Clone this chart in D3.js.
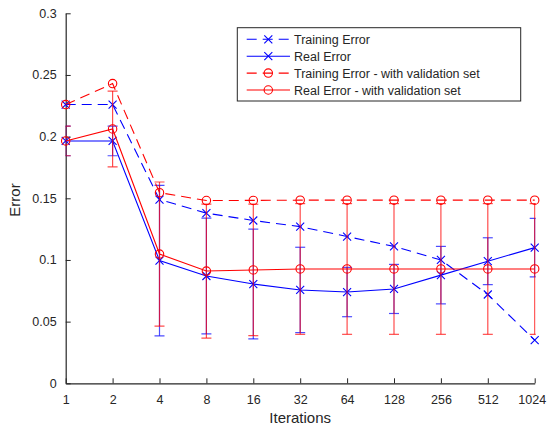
<!DOCTYPE html>
<html><head><meta charset="utf-8">
<script src="https://cdn.jsdelivr.net/npm/d3@7"></script>
<style>body{margin:0;background:#fff;} svg{display:block;font-family:"Liberation Sans",Arial,sans-serif;}</style>
</head><body>
<script>
const iterations = [1,2,4,8,16,32,64,128,256,512,1024];
const trainErr = [0.226,0.226,0.149,0.138,0.132,0.127,0.119,0.111,0.100,0.072,0.035];
const realErr = [0.1965,0.1965,0.0995,0.087,0.0805,0.0757,0.074,0.0765,0.0877,0.099,0.110];
const realErrDev = [0.012,0.012,0.061,0.047,0.0445,0.0346,0.020,0.0199,0.0233,0.019,0.0237];
const trainValErr = [0.226,0.243,0.1546,0.1482,0.1483,0.1485,0.1485,0.1485,0.1485,0.1485,0.1485];
const realValErr = [0.1965,0.2062,0.1048,0.091,0.0919,0.0927,0.0927,0.0927,0.0927,0.0927,0.0927];
const realValErrDev = [0.012,0.0307,0.0584,0.0543,0.0533,0.053,0.053,0.053,0.053,0.053,0.053];
const yTicks = [0,0.05,0.1,0.15,0.2,0.25,0.3];
const legendLabels = ["Training Error","Real Error","Training Error - with validation set","Real Error - with validation set"];

const W=547,H=427;
const x0=65.7,x1=534.7,yTop=13.3,yBot=383.3;
const svg=d3.select("body").append("svg").attr("width",W).attr("height",H);
const x=d3.scaleLog().base(2).domain([1,1024]).range([x0,x1]);
const y=d3.scaleLinear().domain([0,0.3]).range([yBot,yTop]);
const axisCol="#262626";

// axes
const gx=svg.append("g").attr("transform",`translate(0,${yBot})`)
  .call(d3.axisBottom(x).tickValues(iterations).tickFormat(d3.format("d")).tickSizeInner(-5).tickSizeOuter(0).tickPadding(12));
const gy=svg.append("g").attr("transform",`translate(${x0},0)`)
  .call(d3.axisLeft(y).tickValues(yTicks).tickFormat(d=>d===0?"0":String(+d.toFixed(2))).tickSizeInner(-5).tickSizeOuter(0).tickPadding(9));
[gx,gy].forEach(g=>{
  g.select(".domain").attr("stroke",axisCol).attr("stroke-width",1.2);
  g.selectAll(".tick line").attr("stroke",axisCol);
  g.selectAll(".tick text").attr("fill",axisCol).style("font-size","12.5px").style("font-family","'Liberation Sans',Arial,sans-serif");
});
// keep last x label inside the window, as in the reference
gx.selectAll(".tick text").filter(d=>d===1024).attr("dx",-3);

svg.append("text").attr("x",(x0+x1)/2).attr("y",423).attr("text-anchor","middle")
  .attr("fill",axisCol).style("font-size","15px").text("Iterations");
svg.append("text").attr("transform","translate(20,200) rotate(-90)").attr("text-anchor","middle")
  .attr("fill",axisCol).style("font-size","15px").text("Error");

svg.append("clipPath").attr("id","clip").append("rect")
  .attr("x",x0).attr("y",0).attr("width",x1-x0+1).attr("height",H);

const plot=svg.append("g");
const line=d3.line().x(d=>x(d[0])).y(d=>y(d[1]));

function cross(g,cx,cy,col){
  const s=4;
  g.append("path").attr("d",`M${cx-s},${cy-s}L${cx+s},${cy+s}M${cx-s},${cy+s}L${cx+s},${cy-s}`)
    .attr("stroke",col).attr("stroke-width",1.1).attr("fill","none");
}
function circ(g,cx,cy,col){
  g.append("circle").attr("cx",cx).attr("cy",cy).attr("r",4.2)
    .attr("stroke",col).attr("stroke-width",1.1).attr("fill","none");
}

function series(vals,col,dash,marker,dev){
  const pts=iterations.map((it,i)=>[it,vals[i]]);
  if(dev){
    const eb=plot.append("g").attr("clip-path","url(#clip)").attr("stroke",col).attr("stroke-opacity",0.7).attr("stroke-width",1.2);
    iterations.forEach((it,i)=>{
      const cx=x(it),lo=y(vals[i]-dev[i]),hi=y(vals[i]+dev[i]);
      eb.append("line").attr("x1",cx).attr("x2",cx).attr("y1",lo).attr("y2",hi);
      eb.append("line").attr("x1",cx-5).attr("x2",cx+5).attr("y1",lo).attr("y2",lo);
      eb.append("line").attr("x1",cx-5).attr("x2",cx+5).attr("y1",hi).attr("y2",hi);
    });
  }
  plot.append("path").datum(pts).attr("d",line).attr("fill","none").attr("stroke",col)
    .attr("stroke-width",1.1).attr("stroke-dasharray",dash?"10,6":null);
  pts.forEach(p=>marker(plot,x(p[0]),y(p[1]),col));
}
series(trainErr,"#0000ff",true,cross,null);
series(realErr,"#0000ff",false,cross,realErrDev);
series(trainValErr,"#ff0000",true,circ,null);
series(realValErr,"#ff0000",false,circ,realValErrDev);

// legend
const lg=svg.append("g");
lg.append("rect").attr("x",237.3).attr("y",27.7).attr("width",283.4).attr("height",73.3)
  .attr("fill","#fff").attr("stroke",axisCol).attr("stroke-width",1);
const lstyle=[["#0000ff",true,cross],["#0000ff",false,cross],["#ff0000",true,circ],["#ff0000",false,circ]];
const rowY=[39.3,56.2,73.1,90];
legendLabels.forEach((t,i)=>{
  const [col,dash,mk]=lstyle[i];
  const cy=rowY[i];
  lg.append("line").attr("x1",246.7).attr("x2",290).attr("y1",cy).attr("y2",cy)
    .attr("stroke",col).attr("stroke-width",1.1).attr("stroke-dasharray",dash?"10,6":null);
  mk(lg,268.3,cy,col);
  lg.append("text").attr("x",294).attr("y",cy+4.5).attr("fill",axisCol).style("font-size","12.5px").text(t);
});
</script>
</body></html>
